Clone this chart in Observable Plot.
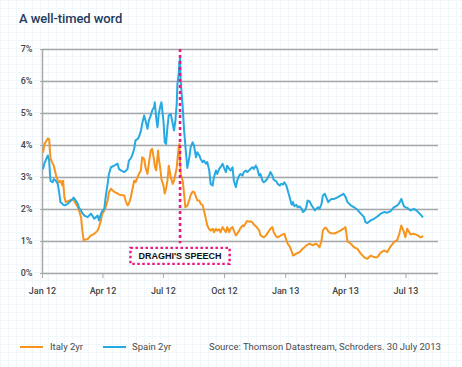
<!DOCTYPE html>
<html><head><meta charset="utf-8">
<script src="https://cdn.jsdelivr.net/npm/d3@7"></script>
<script src="https://cdn.jsdelivr.net/npm/@observablehq/plot@0.6"></script>
<style>
body{margin:0;width:462px;height:367px;overflow:hidden;background-color:#fff;
background-image:linear-gradient(#f0f7fa 1px,transparent 1px),linear-gradient(90deg,#f0f7fa 1px,transparent 1px);
background-size:8px 8px;font-family:Roboto,sans-serif;position:relative;}
#title{position:absolute;left:19px;top:11px;font-size:13px;font-weight:500;color:#1f3b5d;white-space:nowrap;letter-spacing:-0.1px;}
#chart{position:absolute;left:0;top:40px;}
.lg{position:absolute;top:341px;font-size:9.5px;color:#4a4a4a;white-space:nowrap;}
.sw{position:absolute;top:346px;height:2px;width:23px;}
</style></head>
<body>
<div id="title">A well-timed word</div>
<div id="chart"></div>
<div class="sw" style="left:20px;background:#f7941d"></div>
<div class="lg" style="left:50px">Italy 2yr</div>
<div class="sw" style="left:103px;background:#27a9e1"></div>
<div class="lg" style="left:132px">Spain 2yr</div>
<div class="lg" style="left:209px">Source: Thomson Datastream, Schroders. 30 July 2013</div>
<script>
const dates = ["2012-01-02","2012-01-04","2012-01-09","2012-01-11","2012-01-13","2012-01-16","2012-01-18","2012-01-21","2012-01-24","2012-01-26","2012-01-28","2012-01-31","2012-02-01","2012-02-03","2012-02-05","2012-02-08","2012-02-13","2012-02-17","2012-02-20","2012-02-23","2012-02-25","2012-02-28","2012-03-01","2012-03-03","2012-03-04","2012-03-09","2012-03-14","2012-03-19","2012-03-24","2012-03-26","2012-03-29","2012-03-31","2012-04-03","2012-04-05","2012-04-08","2012-04-10","2012-04-13","2012-04-18","2012-04-23","2012-04-25","2012-04-28","2012-05-03","2012-05-05","2012-05-08","2012-05-10","2012-05-13","2012-05-15","2012-05-18","2012-05-20","2012-05-23","2012-05-25","2012-05-28","2012-05-30","2012-06-02","2012-06-04","2012-06-07","2012-06-09","2012-06-12","2012-06-14","2012-06-17","2012-06-18","2012-06-20","2012-06-22","2012-06-23","2012-06-24","2012-06-26","2012-06-28","2012-07-01","2012-07-03","2012-07-05","2012-07-07","2012-07-08","2012-07-09","2012-07-12","2012-07-15","2012-07-17","2012-07-19","2012-07-21","2012-07-22","2012-07-24","2012-07-25","2012-07-26","2012-07-27","2012-07-30","2012-08-01","2012-08-03","2012-08-06","2012-08-09","2012-08-11","2012-08-14","2012-08-16","2012-08-19","2012-08-21","2012-08-24","2012-08-26","2012-08-29","2012-08-31","2012-09-03","2012-09-05","2012-09-08","2012-09-10","2012-09-13","2012-09-15","2012-09-18","2012-09-20","2012-09-23","2012-09-25","2012-09-28","2012-09-30","2012-10-03","2012-10-05","2012-10-08","2012-10-10","2012-10-13","2012-10-15","2012-10-18","2012-10-20","2012-10-23","2012-10-25","2012-10-28","2012-10-30","2012-11-02","2012-11-04","2012-11-07","2012-11-09","2012-11-12","2012-11-14","2012-11-17","2012-11-19","2012-11-22","2012-11-24","2012-11-27","2012-11-29","2012-12-02","2012-12-04","2012-12-07","2012-12-09","2012-12-12","2012-12-14","2012-12-18","2012-12-20","2012-12-23","2012-12-25","2012-12-28","2012-12-30","2013-01-02","2013-01-04","2013-01-07","2013-01-10","2013-01-12","2013-01-14","2013-01-17","2013-01-19","2013-01-22","2013-01-25","2013-01-27","2013-01-30","2013-02-01","2013-02-03","2013-02-06","2013-02-09","2013-02-11","2013-02-14","2013-02-16","2013-02-19","2013-02-21","2013-02-24","2013-02-26","2013-03-01","2013-03-03","2013-03-06","2013-03-08","2013-03-11","2013-03-15","2013-03-20","2013-03-25","2013-03-29","2013-04-01","2013-04-04","2013-04-09","2013-04-14","2013-04-19","2013-04-24","2013-04-29","2013-05-01","2013-05-04","2013-05-09","2013-05-14","2013-05-19","2013-05-24","2013-05-29","2013-06-03","2013-06-08","2013-06-13","2013-06-18","2013-06-21","2013-06-24","2013-06-28","2013-06-30","2013-07-03","2013-07-06","2013-07-08","2013-07-13","2013-07-18","2013-07-23","2013-07-26"];
const spain = [3.28,3.45,3.69,3.53,2.90,2.85,2.95,2.90,2.80,2.54,2.23,2.18,2.15,2.13,2.14,2.18,2.28,2.37,2.28,2.18,2.05,1.97,1.88,1.84,1.81,1.76,1.87,1.71,1.81,1.66,1.87,1.95,2.02,2.38,2.80,3.11,3.32,3.37,3.43,3.27,3.22,3.17,3.20,3.27,3.53,3.60,3.69,3.90,4.16,4.20,4.26,4.45,4.68,4.94,4.78,4.52,4.78,4.94,5.09,5.20,5.35,4.88,4.57,4.75,4.99,5.20,5.35,4.78,4.10,4.05,4.57,4.75,4.94,4.99,4.68,4.47,4.78,5.30,5.90,6.24,6.60,6.71,6.00,5.20,4.50,4.00,3.30,3.63,3.95,4.10,4.00,3.63,3.79,3.69,3.58,3.48,3.53,3.43,3.48,3.22,2.80,2.75,3.01,3.22,3.11,3.27,3.32,3.43,3.32,3.17,3.37,3.27,3.22,3.32,2.90,2.70,2.90,3.06,3.11,3.06,3.17,3.22,3.17,3.22,3.27,3.32,3.27,3.37,3.30,3.06,3.11,2.90,2.85,2.90,2.95,3.06,3.17,3.06,2.93,2.88,2.80,2.75,2.80,2.78,2.85,2.75,2.60,2.38,2.15,2.23,2.10,2.15,2.07,2.10,2.02,1.92,1.97,2.07,2.28,2.25,2.13,2.07,1.97,2.02,2.07,2.02,2.18,2.44,2.49,2.38,2.23,2.28,2.33,2.33,2.38,2.44,2.49,2.40,2.23,2.13,2.07,1.99,1.87,1.76,1.60,1.58,1.66,1.71,1.78,1.87,1.92,1.90,1.95,2.07,2.13,2.20,2.33,2.10,2.07,2.05,2.00,1.97,2.02,1.95,1.84,1.77];
const italy = [3.80,4.05,4.22,4.20,3.60,3.45,3.37,3.10,2.90,2.85,2.90,2.75,2.90,2.38,2.23,2.26,2.30,2.30,2.18,2.08,1.97,1.76,1.34,1.03,1.05,1.08,1.19,1.24,1.34,1.45,1.66,1.87,1.97,2.07,2.28,2.54,2.65,2.55,2.50,2.47,2.45,2.44,2.28,2.13,2.18,2.38,2.60,2.90,2.85,3.01,3.10,3.22,3.63,3.58,3.32,3.11,3.43,3.84,3.90,3.53,3.35,3.22,3.63,3.84,3.60,3.32,2.95,2.75,2.50,2.65,2.90,3.11,3.37,3.01,2.80,2.90,3.11,3.30,3.53,3.95,4.05,3.50,3.10,2.90,2.50,2.07,2.12,2.30,2.45,2.56,2.55,2.40,2.28,2.28,2.18,2.13,1.97,1.70,1.50,1.38,1.34,1.40,1.29,1.40,1.34,1.38,1.29,1.45,1.38,1.29,1.45,1.29,1.40,1.45,1.34,1.19,1.24,1.34,1.42,1.50,1.48,1.58,1.64,1.62,1.63,1.60,1.53,1.48,1.43,1.35,1.20,1.15,1.13,1.18,1.24,1.33,1.40,1.45,1.29,1.15,1.13,1.17,1.19,1.22,1.24,1.05,0.93,0.85,0.70,0.56,0.58,0.62,0.64,0.67,0.74,0.78,0.83,0.88,0.90,0.93,0.90,0.88,0.92,0.93,0.87,0.82,1.03,1.35,1.43,1.42,1.32,1.28,1.26,1.25,1.29,1.35,1.40,1.45,1.00,0.93,0.82,0.77,0.62,0.51,0.48,0.46,0.56,0.51,0.51,0.65,0.72,0.67,0.85,0.98,1.05,1.24,1.50,1.29,1.13,1.40,1.29,1.22,1.24,1.20,1.13,1.16];
const xTicks = ["2012-01-01","2012-04-01","2012-07-01","2012-10-01","2013-01-01","2013-04-01","2013-07-01"];
const xTickLabels = ["Jan 12","Apr 12","Jul 12","Oct 12","Jan 13","Apr 13","Jul 13"];
const yTicks = [0,1,2,3,4,5,6,7];
const yTickLabels = ["0%","1%","2%","3%","4%","5%","6%","7%"];
const xDomain = ["2012-01-01","2013-08-19"];
const speechDate = "2012-07-26";
const speechLabel = "DRAGHI'S SPEECH";

const parse = d3.utcParse("%Y-%m-%d");
const rows = dates.map((d, i) => ({date: parse(d), Italy: italy[i], Spain: spain[i]}));
const tickDates = xTicks.map(parse);
const xLabelOf = new Map(tickDates.map((d, i) => [+d, xTickLabels[i]]));
const yLabelOf = new Map(yTicks.map((v, i) => [v, yTickLabels[i]]));
const speech = parse(speechDate);
const x0 = parse(xDomain[0]);
const gray = "#a8a8a8";
const pink = "#ec1a7e";

const chart = Plot.plot({
  width: 462, height: 270,
  marginLeft: 42, marginRight: 24, marginTop: 9, marginBottom: 37,
  style: {background: "transparent", fontFamily: "Roboto, sans-serif", fontSize: "9px"},
  x: {type: "utc", domain: xDomain.map(parse), label: null},
  y: {domain: [0, 7], label: null},
  marks: [
    Plot.ruleY(yTicks, {stroke: gray, strokeWidth: 1.5}),
    Plot.ruleX([x0], {stroke: gray, strokeWidth: 1.5}),
    Plot.axisY({ticks: yTicks, tickFormat: v => yLabelOf.get(v), tickSize: 2, tickPadding: 8, stroke: gray, fill: "#444", fontWeight: 500, label: null}),
    Plot.axisX({ticks: tickDates, tickFormat: d => xLabelOf.get(+d), tickSize: 5, tickPadding: 9, stroke: gray, fill: "#444", fontWeight: 500, label: null}),
    Plot.line(rows, {x: "date", y: "Italy", stroke: "#f7941d", strokeWidth: 2}),
    Plot.line(rows, {x: "date", y: "Spain", stroke: "#27a9e1", strokeWidth: 2}),
    Plot.ruleX([speech], {y1: 7, y2: 0.93, stroke: pink, strokeWidth: 2.6, strokeDasharray: "3,3"}),
    Plot.text([speech], {x: d => d, y: 0.53, text: () => speechLabel, fontWeight: "bold", fontFamily: "Liberation Sans, Arial, sans-serif", fontSize: 9, fill: "#111", className: "draghi"})
  ]
});
document.getElementById("chart").appendChild(chart);
const t = chart.querySelector(".draghi text");
if (t) {
  const b = t.getBBox();
  const r = document.createElementNS("http://www.w3.org/2000/svg", "rect");
  const tr = t.getAttribute("transform");
  if (tr) r.setAttribute("transform", tr);
  r.setAttribute("x", b.x - 8); r.setAttribute("y", b.y - 3.5);
  r.setAttribute("width", b.width + 16); r.setAttribute("height", b.height + 6);
  r.setAttribute("fill", "none"); r.setAttribute("stroke", pink);
  r.setAttribute("stroke-width", 2.4); r.setAttribute("stroke-dasharray", "2.5,2.5");
  t.parentNode.insertBefore(r, t);
}
</script>
</body></html>
